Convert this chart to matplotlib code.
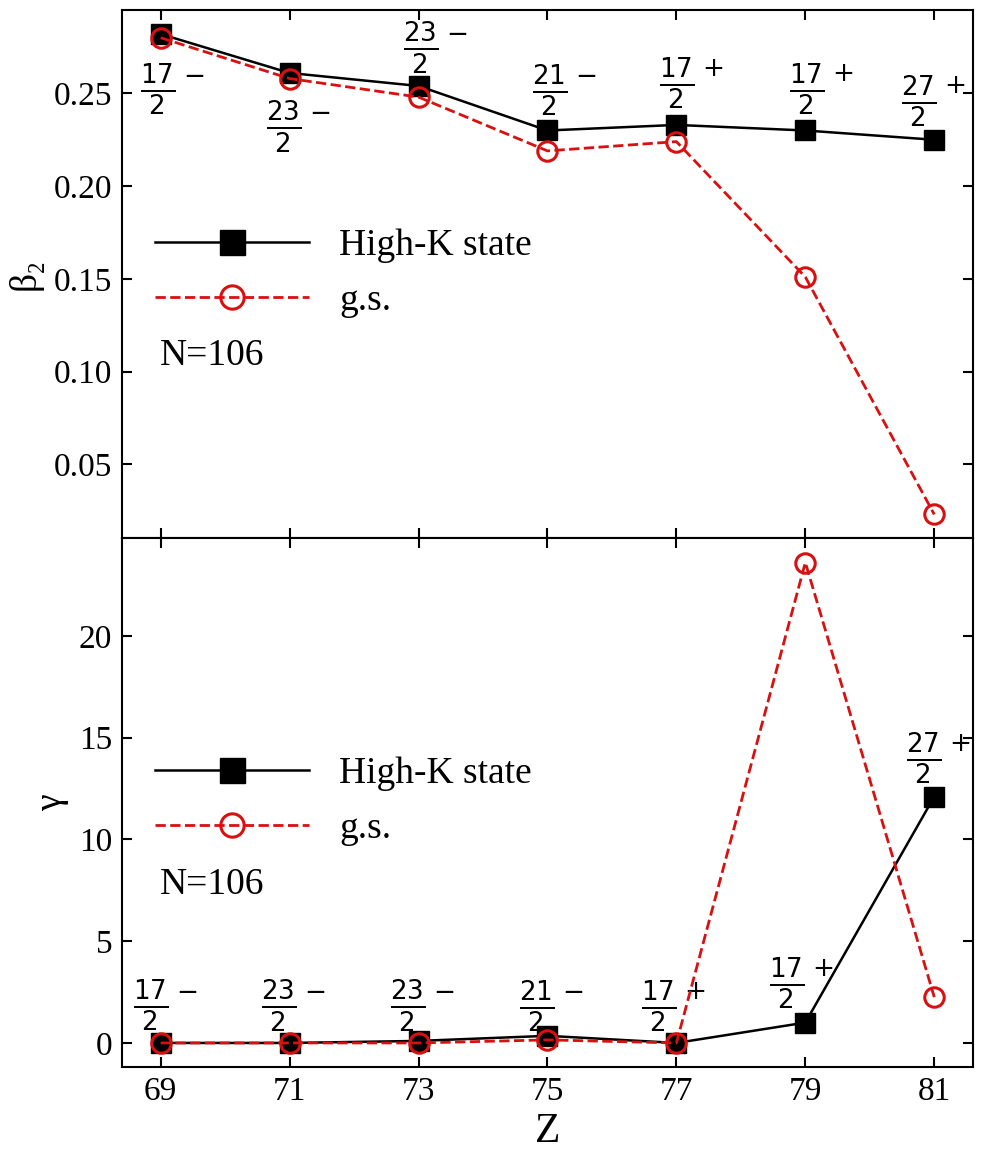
import numpy as np
import matplotlib
matplotlib.use("Agg")
import matplotlib.pyplot as plt

plt.rcParams["font.family"] = ["Liberation Serif", "DejaVu Serif"]
plt.rcParams["mathtext.fontset"] = "dejavusans"

# data
Z = [69, 71, 73, 75, 77, 79, 81]
beta_highk = [0.282, 0.261, 0.254, 0.230, 0.233, 0.230, 0.225]
beta_gs = [0.280, 0.258, 0.248, 0.219, 0.224, 0.151, 0.023]
gamma_highk = [0.0, 0.0, 0.1, 0.35, 0.0, 1.0, 12.1]
gamma_gs = [0.0, 0.0, 0.0, 0.15, 0.0, 23.6, 2.25]
spin_num = [17, 23, 23, 21, 17, 17, 27]
parity = ["-", "-", "-", "-", "+", "+", "+"]

# label offsets in pixels (dx, dy) relative to the High-K point
off_top = [(10, -56), (7, -54), (15, 38), (15, 40), (13, 41), (14, 41), (-3, 39)]
off_bot = [(3, 37), (2, 37), (2, 35), (2, 30), (-5, 36), (-6, 39), (2, 38)]

RED = "#d81010"

fig, (ax1, ax2) = plt.subplots(2, 1, figsize=(9.82, 11.5), dpi=100, sharex=True)
fig.subplots_adjust(left=0.1242, right=0.9908, top=0.9913, bottom=0.0722, hspace=0)


def draw(ax, yk, yg, offs):
    ax.plot(Z, yk, "-s", color="black", lw=1.8, ms=15, label="High-K state", zorder=3)
    ax.plot(Z, yg, "--o", color=RED, lw=2.0, ms=14, mfc="none", mew=2.2,
            label="g.s.", zorder=4)
    for z, y, n, p, (dx, dy) in zip(Z, yk, spin_num, parity, offs):
        # fraction and parity sign drawn separately, sign at numerator height
        ax.annotate(r"$\frac{%d}{2}$" % n, xy=(z, y), xytext=(dx - 13, dy),
                    textcoords="offset pixels", ha="center", va="center",
                    fontsize=27)
        ax.annotate(r"$%s$" % p, xy=(z, y), xytext=(dx + 23, dy + 14),
                    textcoords="offset pixels", ha="center", va="center",
                    fontsize=19)
    ax.legend(loc="center left", bbox_to_anchor=(0.017, 0.502), frameon=False,
              fontsize=27, handlelength=4.1, handletextpad=0.8, borderpad=0,
              labelspacing=0.55, markerscale=1.2)
    ax.text(0.0447, 0.345, "N=106", transform=ax.transAxes, fontsize=27,
            va="center", ha="left")
    ax.tick_params(direction="in", top=True, right=True, length=7, width=1.5,
                   labelsize=24, pad=7)
    for s in ax.spines.values():
        s.set_linewidth(1.5)


draw(ax1, beta_highk, beta_gs, off_top)
draw(ax2, gamma_highk, gamma_gs, off_bot)

ax1.set_yticks([0.05, 0.10, 0.15, 0.20, 0.25])
ax1.set_yticklabels(["0.05", "0.10", "0.15", "0.20", "0.25"])
ax2.set_yticks([0, 5, 10, 15, 20])
ax2.set_xticks(Z)
ax1.set_ylabel("β₂", fontsize=27, labelpad=8)
ax2.set_ylabel("γ", fontsize=27, labelpad=7)
ax2.set_xlabel("Z", fontsize=30, labelpad=4)

fig.savefig("out.png", dpi=100)
